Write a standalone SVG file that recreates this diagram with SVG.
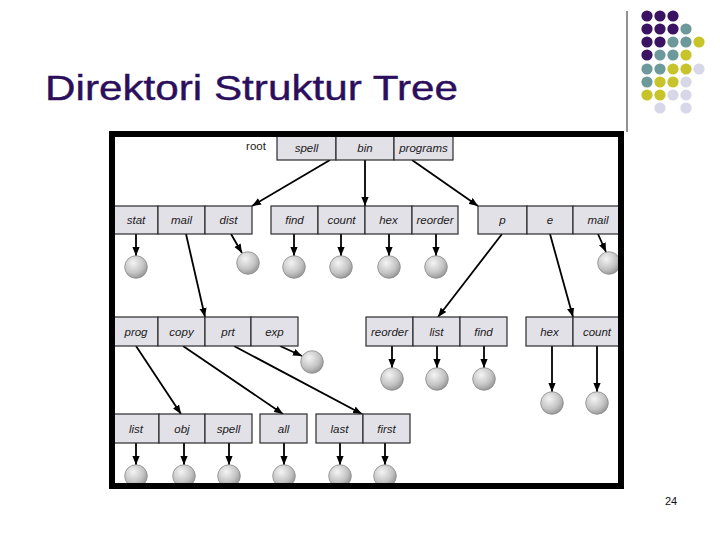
<svg xmlns="http://www.w3.org/2000/svg" width="720" height="540" viewBox="0 0 720 540">
<style>
.c{fill:#e3e1e8;stroke:#2a2a2a;stroke-width:1.2}
.t{font-family:"Liberation Sans",Arial,sans-serif;font-size:11.5px;font-style:italic;fill:#1a1a1a;text-anchor:middle}
.f{fill:url(#g);stroke:#8a8a8a;stroke-width:0.8}
.e{stroke:#000;stroke-width:1.8;fill:none;marker-end:url(#a)}
.P{fill:#3b1363}.T{fill:#6e999b}.Y{fill:#c6c42a}.L{fill:#d7d7e7}
</style>
<defs>
<radialGradient id="g" cx="0.38" cy="0.32" r="0.75">
<stop offset="0" stop-color="#f4f4f4"/><stop offset="0.6" stop-color="#c4c4c4"/><stop offset="1" stop-color="#8e8e8e"/>
</radialGradient>
<marker id="a" viewBox="0 0 10 8" refX="10" refY="4" markerWidth="9" markerHeight="8" markerUnits="userSpaceOnUse" orient="auto">
<path d="M0,0 L10,4 L0,8 z" fill="#000"/>
</marker>
</defs>
<rect width="720" height="540" fill="#fff"/>
<g id="deco">
<line x1="627" y1="11" x2="627" y2="132" stroke="#222" stroke-width="1"/>
<g>
<circle class="P" cx="647" cy="16" r="5.6"/><circle class="P" cx="660" cy="16" r="5.6"/><circle class="P" cx="673" cy="16" r="5.6"/>
<circle class="P" cx="647" cy="29" r="5.6"/><circle class="P" cx="660" cy="29" r="5.6"/><circle class="P" cx="673" cy="29" r="5.6"/><circle class="T" cx="686" cy="29" r="5.6"/>
<circle class="P" cx="647" cy="42" r="5.6"/><circle class="P" cx="660" cy="42" r="5.6"/><circle class="T" cx="673" cy="42" r="5.6"/><circle class="T" cx="686" cy="42" r="5.6"/><circle class="Y" cx="699" cy="42" r="5.6"/>
<circle class="P" cx="647" cy="55" r="5.6"/><circle class="T" cx="660" cy="55" r="5.6"/><circle class="T" cx="673" cy="55" r="5.6"/><circle class="Y" cx="686" cy="55" r="5.6"/>
<circle class="T" cx="647" cy="69" r="5.6"/><circle class="T" cx="660" cy="69" r="5.6"/><circle class="Y" cx="673" cy="69" r="5.6"/><circle class="Y" cx="686" cy="69" r="5.6"/><circle class="L" cx="699" cy="69" r="5.6"/>
<circle class="T" cx="647" cy="82" r="5.6"/><circle class="Y" cx="660" cy="82" r="5.6"/><circle class="Y" cx="673" cy="82" r="5.6"/><circle class="L" cx="686" cy="82" r="5.6"/>
<circle class="Y" cx="647" cy="95" r="5.6"/><circle class="Y" cx="660" cy="95" r="5.6"/><circle class="L" cx="673" cy="95" r="5.6"/><circle class="L" cx="686" cy="95" r="5.6"/>
<circle class="L" cx="660" cy="108" r="5.6"/><circle class="L" cx="686" cy="108" r="5.6"/>
</g>
<text x="45" y="100" font-family="'Liberation Sans',Arial,sans-serif" font-size="35" fill="#2b0f5c" stroke="#2b0f5c" stroke-width="0.4" textLength="413" lengthAdjust="spacingAndGlyphs">Direktori Struktur Tree</text>
<text x="671" y="505" font-family="'Liberation Sans',Arial,sans-serif" font-size="11" fill="#111" text-anchor="middle">24</text>
</g>
<rect x="112" y="134" width="509" height="352" fill="#fff"/>
<g id="connectors">
<line class="e" x1="330" y1="160" x2="252" y2="206"/>
<line class="e" x1="365" y1="160" x2="365" y2="206"/>
<line class="e" x1="412" y1="160" x2="478" y2="206"/>
<line class="e" x1="136" y1="234" x2="136" y2="256"/>
<line class="e" x1="186" y1="234" x2="205" y2="317"/>
<line class="e" x1="231" y1="234" x2="242" y2="253"/>
<line class="e" x1="294" y1="234" x2="294" y2="256"/>
<line class="e" x1="341" y1="234" x2="341" y2="256"/>
<line class="e" x1="389" y1="234" x2="389" y2="256"/>
<line class="e" x1="436" y1="234" x2="436" y2="256"/>
<line class="e" x1="502" y1="234" x2="438" y2="317"/>
<line class="e" x1="550" y1="234" x2="573" y2="317"/>
<line class="e" x1="598" y1="234" x2="606" y2="252"/>
<line class="e" x1="136" y1="346" x2="181" y2="414"/>
<line class="e" x1="183" y1="346" x2="283" y2="414"/>
<line class="e" x1="234" y1="346" x2="362" y2="414"/>
<line class="e" x1="280" y1="346" x2="302" y2="356"/>
<line class="e" x1="392" y1="346" x2="392" y2="368"/>
<line class="e" x1="437" y1="346" x2="437" y2="368"/>
<line class="e" x1="484" y1="346" x2="484" y2="368"/>
<line class="e" x1="552" y1="346" x2="552" y2="392"/>
<line class="e" x1="597" y1="346" x2="597" y2="392"/>
<line class="e" x1="136" y1="443" x2="136" y2="465"/>
<line class="e" x1="184" y1="443" x2="184" y2="465"/>
<line class="e" x1="229" y1="443" x2="229" y2="465"/>
<line class="e" x1="284" y1="443" x2="284" y2="465"/>
<line class="e" x1="340" y1="443" x2="340" y2="465"/>
<line class="e" x1="385" y1="443" x2="385" y2="465"/>
</g>
<g id="root">
<text x="256" y="150" font-family="'Liberation Sans',Arial,sans-serif" font-size="11.5" fill="#1a1a1a" text-anchor="middle">root</text>
<rect class="c" x="277" y="136" width="59" height="24"/><text class="t" x="306.5" y="152">spell</text>
<rect class="c" x="336" y="136" width="58" height="24"/><text class="t" x="365" y="152">bin</text>
<rect class="c" x="394" y="136" width="59" height="24"/><text class="t" x="423.5" y="152">programs</text>
</g>
<g id="dir-spell">
<rect class="c" x="112" y="206" width="46" height="28"/><text class="t" x="136" y="224">stat</text>
<rect class="c" x="158" y="206" width="47" height="28"/><text class="t" x="181.5" y="224">mail</text>
<rect class="c" x="205" y="206" width="47" height="28"/><text class="t" x="228.5" y="224">dist</text>
</g>
<g id="dir-bin">
<rect class="c" x="271" y="206" width="47" height="28"/><text class="t" x="294.5" y="224">find</text>
<rect class="c" x="318" y="206" width="47" height="28"/><text class="t" x="341.5" y="224">count</text>
<rect class="c" x="365" y="206" width="47" height="28"/><text class="t" x="388.5" y="224">hex</text>
<rect class="c" x="412" y="206" width="46" height="28"/><text class="t" x="435" y="224">reorder</text>
</g>
<g id="dir-programs">
<rect class="c" x="478" y="206" width="49" height="28"/><text class="t" x="502.5" y="224">p</text>
<rect class="c" x="527" y="206" width="46" height="28"/><text class="t" x="550" y="224">e</text>
<rect class="c" x="573" y="206" width="47" height="28"/><text class="t" x="598" y="224">mail</text>
</g>
<g id="dir-mail">
<rect class="c" x="112" y="317" width="46" height="29"/><text class="t" x="136" y="335.5">prog</text>
<rect class="c" x="158" y="317" width="47" height="29"/><text class="t" x="181.5" y="335.5">copy</text>
<rect class="c" x="205" y="317" width="46" height="29"/><text class="t" x="228" y="335.5">prt</text>
<rect class="c" x="251" y="317" width="47" height="29"/><text class="t" x="274.5" y="335.5">exp</text>
</g>
<g id="dir-p">
<rect class="c" x="366" y="317" width="47" height="29"/><text class="t" x="389.5" y="335.5">reorder</text>
<rect class="c" x="413" y="317" width="47" height="29"/><text class="t" x="436.5" y="335.5">list</text>
<rect class="c" x="460" y="317" width="47" height="29"/><text class="t" x="483.5" y="335.5">find</text>
</g>
<g id="dir-e">
<rect class="c" x="526" y="317" width="47" height="29"/><text class="t" x="549.5" y="335.5">hex</text>
<rect class="c" x="573" y="317" width="47" height="29"/><text class="t" x="597" y="335.5">count</text>
</g>
<g id="dir-prog">
<rect class="c" x="112" y="414" width="47" height="29"/><text class="t" x="136" y="432.5">list</text>
<rect class="c" x="159" y="414" width="46" height="29"/><text class="t" x="182" y="432.5">obj</text>
<rect class="c" x="205" y="414" width="47" height="29"/><text class="t" x="228.5" y="432.5">spell</text>
</g>
<g id="dir-copy">
<rect class="c" x="260" y="414" width="47" height="29"/><text class="t" x="283.5" y="432.5">all</text>
</g>
<g id="dir-prt">
<rect class="c" x="316" y="414" width="47" height="29"/><text class="t" x="339.5" y="432.5">last</text>
<rect class="c" x="363" y="414" width="47" height="29"/><text class="t" x="386.5" y="432.5">first</text>
</g>
<g id="files">
<circle class="f" cx="136" cy="267" r="11.3"/>
<circle class="f" cx="248" cy="263" r="11.3"/>
<circle class="f" cx="294" cy="267" r="11.3"/>
<circle class="f" cx="341" cy="267" r="11.3"/>
<circle class="f" cx="389" cy="267" r="11.3"/>
<circle class="f" cx="436" cy="267" r="11.3"/>
<circle class="f" cx="609" cy="263" r="11.3"/>
<circle class="f" cx="312" cy="362" r="11.3"/>
<circle class="f" cx="392" cy="379" r="11.3"/>
<circle class="f" cx="437" cy="379" r="11.3"/>
<circle class="f" cx="484" cy="379" r="11.3"/>
<circle class="f" cx="552" cy="403" r="11.3"/>
<circle class="f" cx="597" cy="403" r="11.3"/>
<circle class="f" cx="136" cy="476" r="11.3"/>
<circle class="f" cx="184" cy="476" r="11.3"/>
<circle class="f" cx="229" cy="476" r="11.3"/>
<circle class="f" cx="284" cy="476" r="11.3"/>
<circle class="f" cx="340" cy="476" r="11.3"/>
<circle class="f" cx="385" cy="476" r="11.3"/>
</g>
<rect id="frame" x="112" y="134" width="509" height="352" fill="none" stroke="#000" stroke-width="6"/>
</svg>
